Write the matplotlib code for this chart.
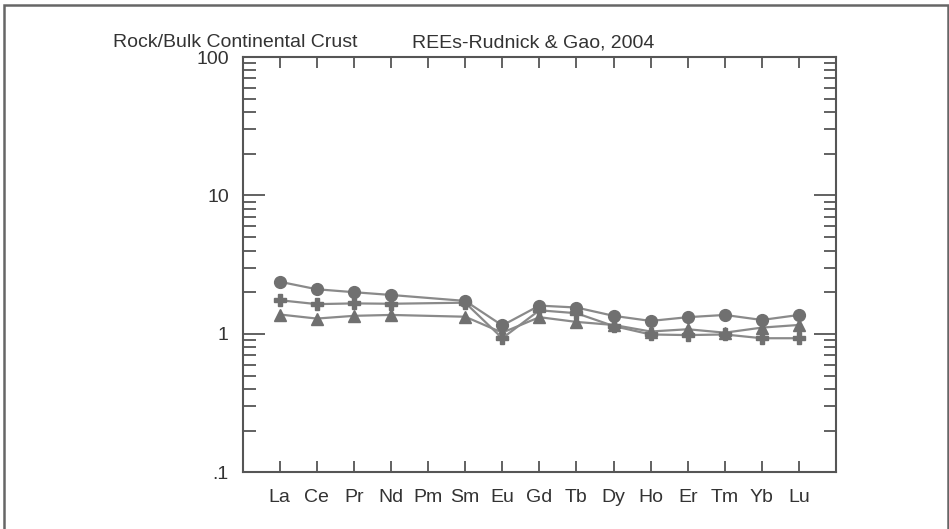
import numpy as np
import matplotlib.pyplot as plt
from matplotlib.ticker import FixedLocator, LogLocator, NullFormatter
from matplotlib.patches import Rectangle

elements = ["La", "Ce", "Pr", "Nd", "Pm", "Sm", "Eu", "Gd", "Tb", "Dy", "Ho", "Er", "Tm", "Yb", "Lu"]
# Pm is not measured, so it is left out of each series
measured = ["La", "Ce", "Pr", "Nd", "Sm", "Eu", "Gd", "Tb", "Dy", "Ho", "Er", "Tm", "Yb", "Lu"]

sample_circle = [2.38, 2.10, 2.00, 1.91, 1.73, 1.15, 1.60, 1.55, 1.35, 1.24, 1.32, 1.37, 1.26, 1.37]
sample_cross = [1.75, 1.64, 1.66, 1.65, 1.68, 0.93, 1.48, 1.41, 1.14, 0.99, 0.98, 0.99, 0.93, 0.93]
sample_triangle = [1.38, 1.29, 1.35, 1.37, 1.33, 1.02, 1.32, 1.22, 1.16, 1.04, 1.08, 1.02, 1.11, 1.16]

y_ticks = [0.1, 1, 10, 100]
y_labels = [".1", "1", "10", "100"]

plt.rcParams['font.family'] = ['Liberation Sans', 'DejaVu Sans']
fs = 14

fig = plt.figure(figsize=(9.49, 5.29), dpi=100)
ax = fig.add_axes([0.2557, 0.1072, 0.881 - 0.2557, 0.8922 - 0.1072])

xpos = [elements.index(e) + 1 for e in measured]
line_col = "#8a8a8a"
mark_col = "#707070"
for vals, m, ms in [(sample_triangle, "^", 9), (sample_cross, "P", 9), (sample_circle, "o", 8.5)]:
    ax.plot(xpos, vals, color=line_col, lw=1.6, marker=m, ms=ms,
            markerfacecolor=mark_col, markeredgecolor=mark_col, zorder=3)

ax.set_yscale("log")
ax.set_ylim(0.1, 100)
ax.set_xlim(0, 16)

ax.xaxis.set_major_locator(FixedLocator(range(1, 16)))
ax.set_xticklabels(elements)
ax.yaxis.set_major_locator(FixedLocator(y_ticks))
ax.set_yticklabels(y_labels)
ax.yaxis.set_minor_locator(LogLocator(base=10, subs=np.arange(2, 10)))
ax.yaxis.set_minor_formatter(NullFormatter())

frame_col = "#555555"
txt_col = "#333333"
for s in ax.spines.values():
    s.set_color(frame_col)
    s.set_linewidth(1.5)
ax.tick_params(axis="x", which="major", direction="in", length=8, width=1.3, color=frame_col,
               top=True, labelsize=fs, pad=12, labelcolor=txt_col)
ax.tick_params(axis="y", which="major", direction="in", length=16, width=1.3, color=frame_col,
               right=True, labelsize=fs, pad=10, labelcolor=txt_col)
ax.tick_params(axis="y", which="minor", direction="in", length=9, width=1.3, color=frame_col,
               right=True)

fig.text(113 / 949, 1 - 47 / 529, "Rock/Bulk Continental Crust", fontsize=fs, color=txt_col,
         ha="left", va="baseline")
fig.text(412 / 949, 1 - 47 / 529, "REEs-Rudnick & Gao, 2004", fontsize=fs, color=txt_col,
         ha="left", va="baseline")

# open-bottomed border round the panel
fig.add_artist(Rectangle((4 / 949, -0.05), 944 / 949, 1.05 - 5 / 529, transform=fig.transFigure,
                         fill=False, edgecolor="#666666", lw=1.8))

fig.savefig("out.png", dpi=100)
